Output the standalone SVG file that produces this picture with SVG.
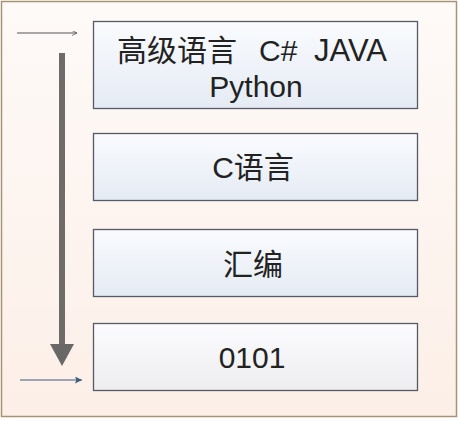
<svg xmlns="http://www.w3.org/2000/svg" width="459" height="421" viewBox="0 0 459 421">
<defs>
<linearGradient id="bg" x1="0" y1="0" x2="0" y2="1">
<stop offset="0" stop-color="#fefaf8"/>
<stop offset="1" stop-color="#fcefe7"/>
</linearGradient>
<linearGradient id="boxg" x1="0" y1="0" x2="0" y2="1">
<stop offset="0" stop-color="#f9fbfe"/>
<stop offset="1" stop-color="#e5ebf4"/>
</linearGradient>
<linearGradient id="boxw" x1="0" y1="0" x2="0" y2="1">
<stop offset="0" stop-color="#fcfbfd"/>
<stop offset="1" stop-color="#ededef"/>
</linearGradient>
<marker id="ah1" viewBox="0 0 10 10" refX="10" refY="5" markerWidth="5" markerHeight="5" orient="auto" markerUnits="userSpaceOnUse">
<path d="M0,0 L10,5 L0,10" fill="none" stroke="#555" stroke-width="1.5"/>
</marker>
<marker id="ah2" viewBox="0 0 10 10" refX="10" refY="5" markerWidth="7" markerHeight="7" orient="auto" markerUnits="userSpaceOnUse">
<path d="M0,0 L10,5 L0,10 L2,5 Z" fill="#3d5a78"/>
</marker>
</defs>
<style>
.box{stroke:#555a66;stroke-width:1.3}
.t{font-family:"Liberation Sans","Noto Sans CJK SC",sans-serif;font-size:30px;fill:#222;text-anchor:middle}
.s{text-anchor:start}
</style>
<rect x="1.5" y="1.5" width="455" height="415" fill="url(#bg)" stroke="#a89276" stroke-width="1.5"/>
<g id="connectors">
<rect x="59" y="53" width="6" height="293" fill="#6e6b69"/>
<polygon points="50,344 74,344 62,366" fill="#6a6866"/>
<line x1="17" y1="33" x2="77" y2="33" stroke="#555" stroke-width="1" marker-end="url(#ah1)"/>
<line x1="20" y1="380" x2="82" y2="380" stroke="#3d5a78" stroke-width="1" marker-end="url(#ah2)"/>
</g>
<g id="n1">
<rect class="box" x="93.5" y="21.5" width="324" height="87" fill="url(#boxg)"/>
<text class="t s" y="61"><tspan x="117">高级语言</tspan><tspan x="259">C#</tspan><tspan x="314" font-size="31">JAVA</tspan></text>
<text class="t" x="256" y="97">Python</text>
</g>
<g id="n2">
<rect class="box" x="93.5" y="133.5" width="324" height="67" fill="url(#boxg)"/>
<text class="t" x="253" y="178">C语言</text>
</g>
<g id="n3">
<rect class="box" x="93.5" y="229.5" width="324" height="67" fill="url(#boxg)"/>
<text class="t" x="253" y="275">汇编</text>
</g>
<g id="n4">
<rect class="box" x="93.5" y="323.5" width="324" height="67" fill="url(#boxw)"/>
<text class="t" x="252" y="368">0101</text>
</g>
</svg>
